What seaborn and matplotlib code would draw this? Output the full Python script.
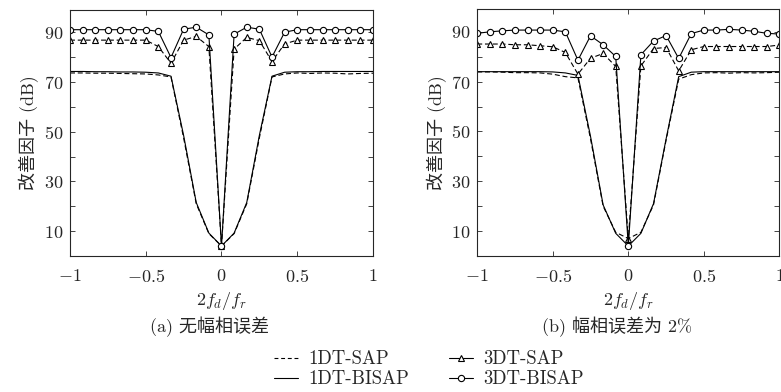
import numpy as np
import pandas as pd
import matplotlib
matplotlib.use('Agg')
import matplotlib.pyplot as plt
from matplotlib.lines import Line2D
import seaborn as sns

# data, x = 2fd/fr in steps of 1/12
x = np.linspace(-1, 1, 25)

# (a) no amplitude/phase error
a_1dt_sap = [73.6, 73.6, 73.5, 73.5, 73.4, 73.3, 73.2, 72.8, 72.0, 47.5, 21.0, 9.0, 4.0,
             9.0, 21.0, 47.5, 72.0, 73.2, 73.6, 73.4, 73.6, 73.5, 73.2, 73.4, 73.5]
a_1dt_bisap = [74.2, 74.2, 74.1, 74.1, 74.0, 74.0, 73.9, 73.6, 72.3, 48.5, 21.5, 9.2, 4.0,
               9.2, 21.5, 48.5, 72.3, 73.9, 74.1, 74.1, 74.2, 74.2, 74.2, 74.2, 74.2]
a_3dt_sap = [86.8, 86.8, 86.8, 86.8, 86.8, 86.8, 86.8, 84.2, 77.5, 86.8, 88.3, 84.2, 4.0,
             83.2, 87.9, 86.6, 78.2, 85.3, 86.8, 86.8, 86.8, 86.8, 86.8, 86.8, 86.8]
a_3dt_bisap = [91.0, 91.0, 91.0, 91.0, 91.0, 91.0, 91.0, 90.3, 79.8, 91.2, 92.0, 88.9, 4.0,
               89.2, 92.0, 91.2, 80.0, 90.0, 91.0, 91.0, 91.0, 91.0, 91.0, 91.0, 91.0]

# (b) 2% amplitude/phase error
b_1dt_sap = [73.9, 73.9, 73.8, 73.6, 73.6, 73.5, 73.0, 72.0, 71.5, 47.0, 20.0, 9.5, 7.0,
             9.5, 20.5, 46.5, 71.0, 72.8, 73.5, 73.6, 73.4, 73.6, 73.5, 73.6, 73.8]
b_1dt_bisap = [74.0, 74.0, 74.0, 74.0, 74.0, 74.0, 73.9, 73.5, 72.5, 48.0, 20.5, 9.1, 4.0,
               9.1, 21.0, 47.0, 72.0, 73.8, 74.0, 74.0, 74.0, 74.0, 74.0, 74.0, 74.0]
b_3dt_sap = [85.1, 85.1, 85.1, 84.8, 84.8, 84.4, 84.0, 81.7, 73.0, 79.4, 81.3, 76.1, 7.0,
             76.3, 83.3, 83.7, 74.3, 82.8, 84.1, 84.1, 84.1, 84.1, 84.1, 84.1, 84.7]
b_3dt_bisap = [89.4, 90.0, 90.4, 90.7, 90.7, 90.7, 90.7, 90.0, 78.6, 88.4, 84.8, 80.1, 4.0,
               80.8, 86.3, 88.5, 79.3, 89.3, 90.7, 90.7, 91.0, 90.7, 90.2, 89.4, 89.1]

panels = [
    ('(a) 无幅相误差', a_1dt_sap, a_1dt_bisap, a_3dt_sap, a_3dt_bisap),
    ('(b) 幅相误差为 2%', b_1dt_sap, b_1dt_bisap, b_3dt_sap, b_3dt_bisap),
]

sns.set_style('ticks')
plt.rcParams['font.family'] = ['cmr10', 'Noto Sans CJK SC']
plt.rcParams['mathtext.fontset'] = 'cm'
plt.rcParams['axes.unicode_minus'] = False
mixed = ['cmr10', 'Noto Sans CJK SC']
fs = 13

fig = plt.figure(figsize=(7.81, 3.92), dpi=100)
ax_pos = [[0.0896, 0.347, 0.388, 0.628], [0.611, 0.347, 0.387, 0.629]]

mk = dict(markersize=4.5, markerfacecolor='white', markeredgecolor='black',
          markeredgewidth=0.8)
dash = (4.5, 2.5)

for pos, (cap, s1, b1, s3, b3) in zip(ax_pos, panels):
    ax = fig.add_axes(pos)
    sns.lineplot(x=x, y=s1, ax=ax, color='black', linewidth=0.8, dashes=dash)
    sns.lineplot(x=x, y=b1, ax=ax, color='black', linestyle='-', linewidth=0.8)
    sns.lineplot(x=x, y=s3, ax=ax, color='black', linewidth=0.8, dashes=dash,
                 marker='^', **mk)
    sns.lineplot(x=x, y=b3, ax=ax, color='black', linestyle='-', linewidth=0.8,
                 marker='o', **mk)
    ax.set_xlim(-1, 1)
    ax.set_ylim(0, 99)
    ax.set_xticks([-1, -0.5, 0, 0.5, 1])
    ax.set_xticklabels([r'$-1$', r'$-0.5$', r'$0$', r'$0.5$', r'$1$'])
    ax.set_yticks([10, 30, 50, 70, 90])
    ax.set_yticklabels([r'$10$', r'$30$', r'$50$', r'$70$', r'$90$'])
    ax.set_yticks([20, 40, 60, 80], minor=True)
    ax.tick_params(which='both', direction='in', top=True, right=True,
                   length=3.5, width=0.6, labelsize=fs)
    ax.tick_params(axis='x', pad=9)
    ax.tick_params(axis='y', pad=5)
    for sp in ax.spines.values():
        sp.set_linewidth(0.8)
    ax.set_ylabel('改善因子 (dB)', family=mixed, fontsize=fs, labelpad=3)
    ax.set_xlabel(r'$2f_d/f_r$', fontsize=fs, labelpad=3)
    cx = pos[0] + pos[2] / 2 - 0.015
    fig.text(cx, 0.166, cap, family=mixed, fontsize=fs, ha='center', va='center')

handles = [
    Line2D([], [], color='black', linewidth=0.8, dashes=(3.5, 2.5)),
    Line2D([], [], color='black', linestyle='-', linewidth=0.8),
    Line2D([], [], color='black', linestyle='-', linewidth=0.8, marker='^', **mk),
    Line2D([], [], color='black', linestyle='-', linewidth=0.8, marker='o', **mk),
]
labels = ['1DT-SAP', '1DT-BISAP', '3DT-SAP', '3DT-BISAP']
fig.legend(handles, labels, loc='center', bbox_to_anchor=(0.549, 0.058), ncol=2,
           frameon=False, fontsize=13.5, handlelength=1.3, handletextpad=0.55,
           columnspacing=2.1, labelspacing=0.1, borderpad=0.1)

fig.savefig('out.png', dpi=100)
